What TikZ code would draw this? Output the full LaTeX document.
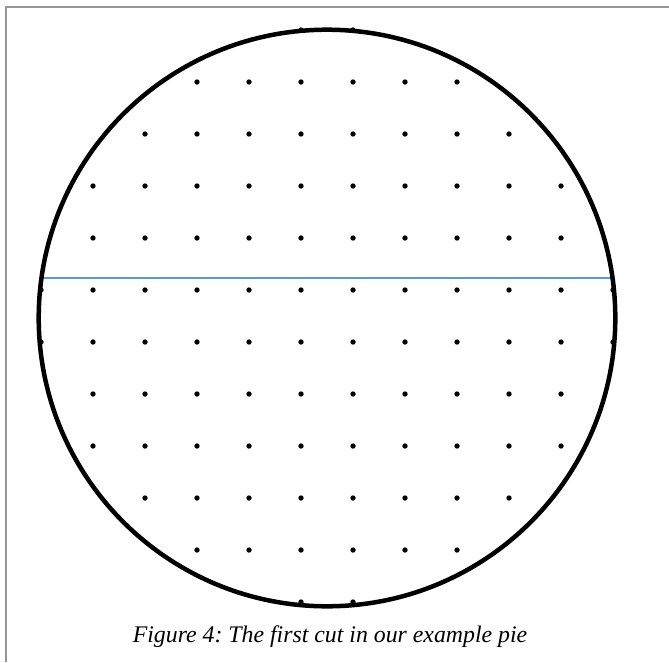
\documentclass[tikz,border=0pt]{standalone}
\usepackage{fontspec}
\setmainfont{Liberation Serif}
\usepackage{xcolor}
\definecolor{cutblue}{RGB}{91,155,213}
\definecolor{framegray}{RGB}{150,150,150}
\frenchspacing

\begin{document}
\begin{tikzpicture}[x=1pt,y=-1pt]
  \useasboundingbox (0,0) rectangle (669,662);
  % frame of the page (left and top edge only)
  \draw[framegray,line width=2pt] (5.5,662) -- (5.5,6.5) -- (669,6.5);
  % 12x12 grid of points, keep the ones that fall in the pie
  \coordinate (centre) at (327,318);
  \foreach \r in {0,...,11} {
    \foreach \c in {0,...,11} {
      \pgfmathsetmacro{\px}{41+52*\c}
      \pgfmathsetmacro{\py}{30+52*\r}
      \pgfmathtruncatemacro{\inside}{veclen(\px-327,\py-318)<291}
      \ifnum\inside=1
        \fill (\px,\py) circle (2.7pt);
      \fi
    }
  }
  % first cut
  \coordinate (cutL) at (41.5,278);
  \coordinate (cutR) at (612.5,278);
  \draw[cutblue,line width=2pt] (cutL) -- (cutR);
  % the pie
  \draw[line width=4.5pt] (centre) circle (288.3pt);
  % caption
  \node[anchor=base,font=\itshape\fontsize{23.8}{28}\selectfont] (caption) at (330,642)
    {Figure 4: The first cut in our example pie};
\end{tikzpicture}
\end{document}
